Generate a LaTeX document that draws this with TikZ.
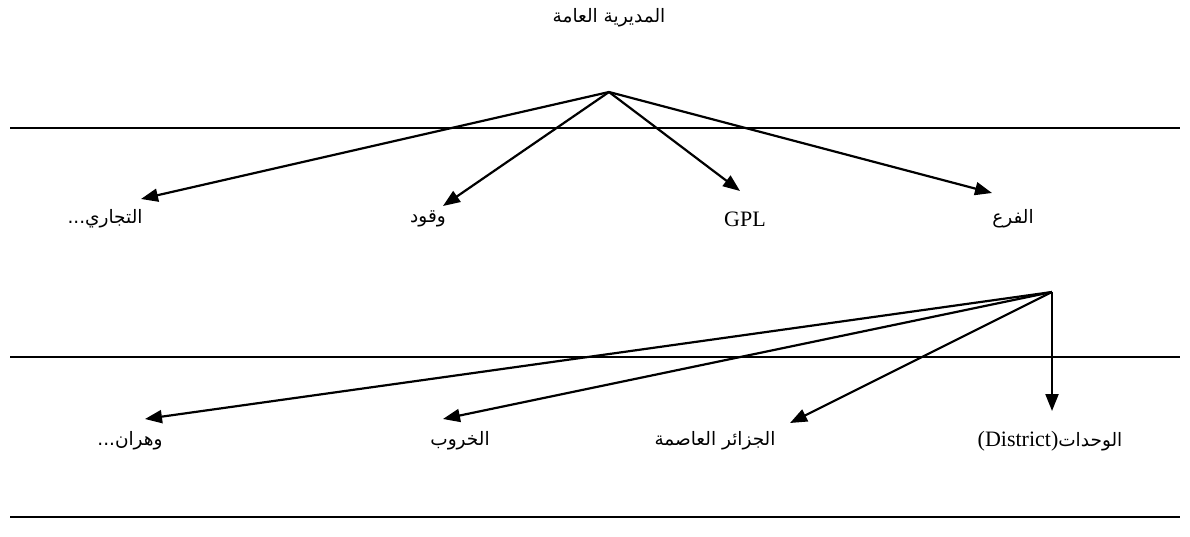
\documentclass[tikz,border=0pt]{standalone}
\usepackage{fontspec}
\setmainfont{Liberation Serif}
\newfontfamily\arabicfont[Script=Arabic]{DejaVu Sans}
\TeXXeTstate=1
\usetikzlibrary{arrows.meta}

\begin{document}
\begin{tikzpicture}[x=1pt,y=-1pt,
    lab/.style={font=\fontsize{22}{26}\selectfont, inner sep=0pt},
    ar/.style={font=\arabicfont\fontsize{18.5}{24}\selectfont, inner sep=0pt},
    arr/.style={-{Triangle[length=17pt,width=13pt]}, line width=2.2pt},
    rule/.style={line width=1.4pt}]

\useasboundingbox (0,0) rectangle (1190,537);

% separating lines
\draw[rule] (10,128) -- (1180,128);
\draw[rule] (10,357) -- (1180,357);
\draw[rule] (10,517) -- (1180,517);

% head
\node[ar] (head) at (609,18) {\beginR المديرية العامة\endR};
\coordinate (root) at (609,92);

% first level
\node[ar] (tij) at (105,219) {\beginR التجاري...\endR};
\node[ar] (waq) at (428,219) {\beginR وقود\endR};
\node[lab] (gpl) at (745,219) {GPL};
\node[ar] (far) at (1013,219) {\beginR الفرع\endR};

\coordinate (t1) at (141,199);
\coordinate (t2) at (443,206);
\coordinate (t3) at (740,191);
\coordinate (t4) at (992,193);

\draw[arr] (root) -- (t1);
\draw[arr] (root) -- (t2);
\draw[arr] (root) -- (t3);
\draw[arr] (root) -- (t4);

% second level
\coordinate (branch) at (1052,292);

\node[ar] (wah) at (130,441) {\beginR وهران...\endR};
\node[ar] (khr) at (460,441) {\beginR الخروب\endR};
\node[ar] (alg) at (715,441) {\beginR الجزائر العاصمة\endR};
\node[inner sep=0pt] (dist) at (1050,441)
    {{\fontsize{22}{26}\selectfont (District)}{\arabicfont\fontsize{18.5}{24}\selectfont\beginR الوحدات\endR}};

\coordinate (s1) at (145,419);
\coordinate (s2) at (443,419);
\coordinate (s3) at (790,423);
\coordinate (s4) at (1052,411);

\draw[arr] (branch) -- (s1);
\draw[arr] (branch) -- (s2);
\draw[arr] (branch) -- (s3);
\draw[arr] (branch) -- (s4);

\end{tikzpicture}
\end{document}
